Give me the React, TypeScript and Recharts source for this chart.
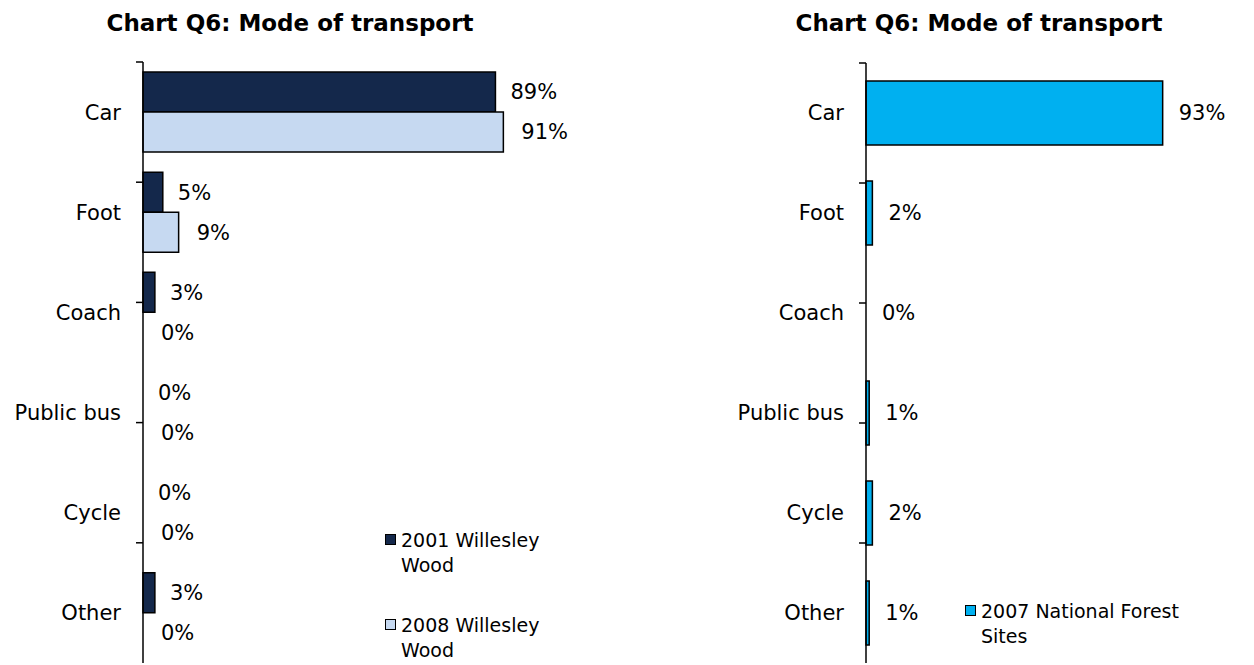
import { BarChart, Bar, XAxis, YAxis, LabelList, Cell } from "recharts";

const categories = ["Car", "Foot", "Coach", "Public bus", "Cycle", "Other"];
const willesley2001 = [89, 5, 3, 0, 0, 3];
const willesley2008 = [91, 9, 0, 0, 0, 0];
const nationalForest2007 = [93, 2, 0, 1, 2, 1];
const edgeTicks = [0, 1, 2, 3, 4, 5, 6];

const TITLE = "Chart Q6: Mode of transport";
const FONT = "'DejaVu Sans', Verdana, sans-serif";

const COLORS = {
  w2001: "#14284B",
  w2008: "#C6D9F1",
  nf2007: "#00B0F0",
};

const SERIES_NAMES = {
  w2001: "2001 Willesley Wood",
  w2008: "2008 Willesley Wood",
  nf2007: "2007 National Forest Sites",
};

const leftData = categories.map((name, i) => ({
  name,
  w2001: willesley2001[i],
  w2008: willesley2008[i],
}));

const rightData = categories.map((name, i) => ({
  name,
  nf2007: nationalForest2007[i],
}));

const pct = (v: any) => `${v}%`;
const blank = () => "";

// zero bars still need a (hidden) rectangle so the 0% label gets drawn
const zeroSafeCells = (values: number[]) =>
  values.map((v, i) => <Cell key={i} stroke={v === 0 ? "none" : "#000"} />);

function LegendBox({ items, left, top, textWidth }: any) {
  return (
    <div
      style={{
        position: "absolute",
        left,
        top,
        fontFamily: FONT,
        fontSize: 19,
        color: "#000",
      }}
    >
      {items.map((it: any) => (
        <div key={it.name} style={{ display: "flex", alignItems: "flex-start", marginBottom: 35 }}>
          <span
            style={{
              width: 9,
              height: 9,
              marginTop: 6,
              marginRight: 5,
              background: it.color,
              border: "1.5px solid #000",
              flex: "none",
            }}
          />
          <span style={{ width: textWidth, lineHeight: "25px" }}>{it.name}</span>
        </div>
      ))}
    </div>
  );
}

function Title({ center }: { center: number }) {
  return (
    <div
      style={{
        position: "absolute",
        left: center,
        top: 10,
        transform: "translateX(-50%)",
        whiteSpace: "nowrap",
        fontFamily: FONT,
        fontWeight: "bold",
        fontSize: 23,
        color: "#000",
      }}
    >
      {TITLE}
    </div>
  );
}

const axisStroke = { stroke: "#000", strokeWidth: 1.5 };

export default function App() {
  return (
    <div
      style={{
        position: "absolute",
        left: 0,
        top: 0,
        width: 1254,
        height: 665,
        background: "#fff",
        fontFamily: FONT,
      }}
    >
      <Title center={290} />
      <Title center={979} />

      <div style={{ position: "absolute", left: 0, top: 0 }}>
        <BarChart
          layout="vertical"
          width={620}
          height={665}
          data={leftData}
          margin={{ top: 62, right: 81, bottom: 2, left: 0 }}
          barCategoryGap="10%"
          barGap={0}
        >
          <XAxis type="number" domain={[0, 100]} hide />
          <YAxis
            yAxisId="a"
            type="number"
            domain={[0, 6]}
            ticks={edgeTicks}
            width={1}
            tickFormatter={blank}
            tickSize={7}
            axisLine={axisStroke}
            tickLine={axisStroke}
          />
          <YAxis
            yAxisId="cat"
            type="category"
            dataKey="name"
            width={142}
            axisLine={false}
            tickLine={false}
            tickSize={0}
            tickMargin={21}
            tick={{ fontSize: 21, fill: "#000" }}
          />
          <Bar
            yAxisId="cat"
            dataKey="w2001"
            fill={COLORS.w2001}
            strokeWidth={1.5}
            minPointSize={0.01}
            isAnimationActive={false}
          >
            {zeroSafeCells(willesley2001)}
            <LabelList dataKey="w2001" position="right" offset={15} formatter={pct} fontSize={21} fill="#000" />
          </Bar>
          <Bar
            yAxisId="cat"
            dataKey="w2008"
            fill={COLORS.w2008}
            strokeWidth={1.5}
            minPointSize={0.01}
            isAnimationActive={false}
          >
            {zeroSafeCells(willesley2008)}
            <LabelList dataKey="w2008" position="right" offset={18} formatter={pct} fontSize={21} fill="#000" />
          </Bar>
        </BarChart>
      </div>

      <div style={{ position: "absolute", left: 620, top: 0 }}>
        <BarChart
          layout="vertical"
          width={634}
          height={665}
          data={rightData}
          margin={{ top: 63, right: 69, bottom: 2, left: 0 }}
          barCategoryGap="18%"
        >
          <XAxis type="number" domain={[0, 100]} hide />
          <YAxis
            yAxisId="a"
            type="number"
            domain={[0, 6]}
            ticks={edgeTicks}
            width={1}
            tickFormatter={blank}
            tickSize={7}
            axisLine={axisStroke}
            tickLine={axisStroke}
          />
          <YAxis
            yAxisId="cat"
            type="category"
            dataKey="name"
            width={245}
            axisLine={false}
            tickLine={false}
            tickSize={0}
            tickMargin={21}
            tick={{ fontSize: 21, fill: "#000" }}
          />
          <Bar
            yAxisId="cat"
            dataKey="nf2007"
            fill={COLORS.nf2007}
            strokeWidth={1.5}
            minPointSize={0.01}
            isAnimationActive={false}
          >
            {zeroSafeCells(nationalForest2007)}
            <LabelList dataKey="nf2007" position="right" offset={16} formatter={pct} fontSize={21} fill="#000" />
          </Bar>
        </BarChart>
      </div>

      <LegendBox
        left={385}
        top={528}
        textWidth={155}
        items={[
          { name: SERIES_NAMES.w2001, color: COLORS.w2001 },
          { name: SERIES_NAMES.w2008, color: COLORS.w2008 },
        ]}
      />
      <LegendBox
        left={965}
        top={599}
        textWidth={225}
        items={[{ name: SERIES_NAMES.nf2007, color: COLORS.nf2007 }]}
      />
    </div>
  );
}
